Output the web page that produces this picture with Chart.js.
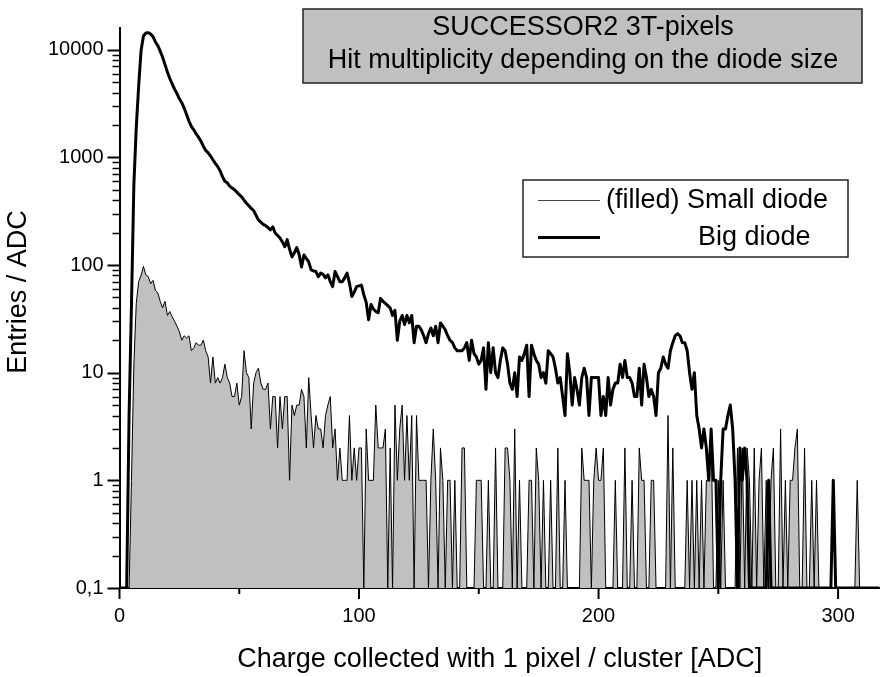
<!DOCTYPE html>
<html>
<head>
<meta charset="utf-8">
<title>SUCCESSOR2 3T-pixels</title>
<script src="https://cdn.jsdelivr.net/npm/chart.js@4.4.0/dist/chart.umd.min.js"></script>
<style>
  html, body { margin: 0; padding: 0; background: #fff; }
  #mycanvas { display: block; }
</style>
</head>
<body>
<canvas id="mycanvas" width="880" height="677"></canvas>
<script>
// one bin per ADC count, first bin is channel 0
var firstBin = 0;

// entries / ADC, small diode (filled)
var smallDiode = [
  0, 0, 0, 0, 0, 1, 12, 44, 70, 80,
  97, 81, 78, 67, 72, 58, 55, 46, 40, 46,
  34, 37, 33, 30, 27, 24, 20, 22, 21, 22,
  16, 17, 19, 18, 18, 20, 16, 14, 8, 14,
  8, 9, 8, 9, 12, 9, 8, 6, 6, 8,
  5, 6, 16, 10, 9, 3, 8, 10, 11, 8,
  7, 7, 8, 3, 6, 6, 2, 6, 3, 6,
  6, 1, 5, 4, 5, 5, 7, 6, 2, 9,
  4, 2, 4, 3, 3, 2, 4, 5, 6, 2,
  3, 1, 2, 1, 1, 1, 4, 1, 2, 1,
  2, 2, 0, 3, 1, 1, 1, 5, 2, 2,
  2, 3, 0, 2, 0, 5, 1, 3, 5, 1,
  4, 1, 4, 0, 4, 1, 1, 1, 1, 0,
  1, 3, 1, 0, 2, 1, 0, 1, 1, 0,
  1, 0, 0, 2, 2, 0, 0, 0, 0, 1,
  1, 1, 0, 0, 1, 0, 0, 2, 0, 0,
  0, 2, 2, 1, 0, 3, 0, 1, 0, 0,
  0, 1, 1, 0, 2, 1, 0, 1, 0, 0,
  1, 0, 0, 2, 0, 0, 1, 0, 0, 0,
  0, 0, 0, 2, 1, 1, 1, 0, 1, 2,
  1, 1, 2, 0, 0, 0, 0, 1, 0, 0,
  0, 2, 0, 0, 1, 0, 0, 2, 1, 1,
  0, 0, 1, 1, 0, 0, 0, 0, 0, 4,
  0, 2, 0, 0, 0, 0, 0, 1, 0, 1,
  0, 1, 0, 1, 0, 1, 1, 3, 0, 0,
  1, 0, 1, 0, 0, 0, 0, 0, 2, 0,
  2, 0, 2, 1, 0, 2, 0, 1, 2, 0,
  1, 0, 1, 2, 0, 0, 3, 0, 1, 0,
  1, 1, 2, 3, 0, 0, 2, 0, 0, 1,
  0, 1, 0, 0, 0, 0, 0, 0, 0, 0,
  0, 0, 0, 0, 0, 0, 0, 0, 1, 0,
  0, 0, 0, 0, 0, 0, 0, 0
];

// entries / ADC, big diode
var bigDiode = [
  0, 0, 0, 0, 4, 43, 560, 1900, 4600, 9800,
  13400, 14300, 14400, 14000, 13200, 11800, 10900, 9700, 8500, 7260,
  6200, 5400, 4800, 4300, 3900, 3500, 3220, 2870, 2500, 2170,
  1940, 1800, 1650, 1540, 1410, 1270, 1160, 1100, 1030, 950,
  880, 820, 750, 660, 600, 580, 540, 520, 500, 475,
  450, 430, 400, 375, 355, 335, 320, 290, 262, 250,
  238, 232, 222, 212, 226, 198, 188, 178, 164, 148,
  172, 140, 119, 130, 145, 125, 96, 124, 115, 107,
  90, 88, 87, 78, 84, 82, 76, 81, 70, 63,
  87, 78, 70, 70, 76, 84, 68, 51, 56, 63,
  64, 65, 53, 45, 31, 43, 39, 37, 36, 49,
  46, 44, 42, 40, 34, 38, 20, 30, 34, 28,
  34, 29, 34, 19, 27, 27, 25, 22, 19, 23,
  26, 22, 27, 19, 29, 27, 25, 22, 20, 19,
  17, 16, 16, 16, 17, 19, 13, 20, 15, 14,
  12, 13, 17, 7, 19, 10, 17, 10, 9, 13,
  17, 16, 12, 8, 7, 10, 6, 14, 13, 15,
  18, 6, 18, 15, 13, 12, 9, 10, 8, 16,
  15, 14, 11, 8, 9, 6, 4, 15, 10, 5,
  9, 7, 5, 9, 11, 9, 4, 9, 9, 9,
  9, 4, 6, 4, 9, 5, 7, 8, 8, 12,
  9, 13, 9, 9, 8, 6, 6, 11, 5, 12,
  9, 6, 7, 6, 4, 10, 11, 14, 12, 11,
  16, 19, 22, 23, 22, 19, 19, 16, 10, 7,
  10, 4, 3, 2, 3, 2, 1, 3, 1, 1,
  0, 1, 3, 3, 4, 5, 3, 1, 0, 2,
  1, 2, 1, 0, 0, 0, 0, 0, 0, 0,
  0, 1, 0, 0, 0, 0, 0, 0, 0, 0,
  0, 0, 0, 0, 0, 0, 0, 0, 0, 0,
  0, 0, 0, 0, 0, 0, 0, 0, 1, 0,
  0, 0, 0, 0, 0, 0, 0, 0, 0, 0,
  0, 0, 0, 0, 0, 0, 0, 0
];

var xTicks = [0, 100, 200, 300];
var xMinorTicks = [50, 150, 250];
var yTicks = [0.1, 1, 10, 100, 1000, 10000];
var yTickLabels = ['0,1', '1', '10', '100', '1000', '10000'];
var yMin = 0.1;
var titleLines = ['SUCCESSOR2 3T-pixels', 'Hit multiplicity depending on the diode size'];
var legendLabels = ['(filled) Small diode', 'Big diode'];
var xTitle = 'Charge collected with 1 pixel / cluster [ADC]';
var yTitle = 'Entries / ADC';

var FONT = "'Liberation Sans', Arial, Helvetica, sans-serif";

// empty bins sit on the bottom of the log axis, like in the original plot
function toPoints(arr) {
  var pts = [];
  for (var i = 0; i < arr.length; i++) {
    pts.push({ x: firstBin + i, y: arr[i] > 0 ? arr[i] : yMin });
  }
  return pts;
}

// ticks (major + minor), y title, title box and legend
var decorations = {
  id: 'decorations',
  afterDraw: function(chart) {
    var ctx = chart.ctx;
    var xs = chart.scales.x, ys = chart.scales.y;
    var area = chart.chartArea;
    ctx.save();
    ctx.strokeStyle = '#000';
    ctx.lineCap = 'butt';

    // y ticks
    var d, k, v, p;
    for (d = -1; d <= 4; d++) {
      for (k = 1; k <= 9; k++) {
        v = k * Math.pow(10, d);
        if (v > ys.max) break;
        p = Math.round(ys.getPixelForValue(v)) + 0.5;
        ctx.beginPath();
        ctx.lineWidth = k === 1 ? 2 : 1.5;
        ctx.moveTo(area.left - (k === 1 ? 12 : 7), p);
        ctx.lineTo(area.left, p);
        ctx.stroke();
      }
    }
    // x ticks
    xTicks.forEach(function(t) {
      p = xs.getPixelForValue(t);
      ctx.beginPath();
      ctx.lineWidth = 2;
      ctx.moveTo(p, area.bottom);
      ctx.lineTo(p, area.bottom + 11);
      ctx.stroke();
    });
    xMinorTicks.forEach(function(t) {
      p = xs.getPixelForValue(t);
      ctx.beginPath();
      ctx.lineWidth = 2;
      ctx.moveTo(p, area.bottom);
      ctx.lineTo(p, area.bottom + 6);
      ctx.stroke();
    });

    // y axis title
    ctx.save();
    ctx.translate(19, 292);
    ctx.rotate(-Math.PI / 2);
    ctx.fillStyle = '#000';
    ctx.font = '27px ' + FONT;
    ctx.textAlign = 'center';
    ctx.textBaseline = 'middle';
    ctx.fillText(yTitle, 0, 0);
    ctx.restore();

    // title box
    ctx.fillStyle = '#c0c0c0';
    ctx.fillRect(303, 9, 559, 74);
    ctx.lineWidth = 1.5;
    ctx.strokeStyle = '#222';
    ctx.strokeRect(303, 9, 559, 74);
    ctx.fillStyle = '#000';
    ctx.font = '27px ' + FONT;
    ctx.textAlign = 'center';
    ctx.textBaseline = 'middle';
    ctx.fillText(titleLines[0], 583, 28);
    ctx.fillText(titleLines[1], 583, 61);

    // legend
    ctx.fillStyle = '#fff';
    ctx.fillRect(523, 180, 325, 77);
    ctx.strokeRect(523, 180, 325, 77);
    ctx.beginPath();
    ctx.lineWidth = 1;
    ctx.strokeStyle = '#444';
    ctx.moveTo(538, 200.5);
    ctx.lineTo(600, 200.5);
    ctx.stroke();
    ctx.beginPath();
    ctx.lineWidth = 3;
    ctx.strokeStyle = '#000';
    ctx.moveTo(538, 237.5);
    ctx.lineTo(600, 237.5);
    ctx.stroke();
    ctx.fillStyle = '#000';
    ctx.textAlign = 'left';
    ctx.fillText(legendLabels[0], 606, 201);
    ctx.fillText(legendLabels[1], 698, 238);
    ctx.restore();
  }
};

var ctx = document.getElementById('mycanvas');

var chart = new Chart(ctx, {
  type: 'line',
  data: {
    datasets: [
      {
        label: legendLabels[0],
        data: toPoints(smallDiode),
        borderColor: '#000',
        borderWidth: 1,
        backgroundColor: '#c0c0c0',
        fill: 'start',
        pointRadius: 0,
        tension: 0,
        order: 2
      },
      {
        label: legendLabels[1],
        data: toPoints(bigDiode),
        borderColor: '#000',
        borderWidth: 3,
        borderJoinStyle: 'round',
        fill: false,
        pointRadius: 0,
        tension: 0,
        order: 1
      }
    ]
  },
  options: {
    responsive: false,
    animation: false,
    devicePixelRatio: 1,
    layout: { padding: { left: 0, right: 0, top: 28, bottom: 0 } },
    plugins: {
      legend: { display: false },
      tooltip: { enabled: false },
      title: { display: false }
    },
    scales: {
      x: {
        type: 'linear',
        min: 0,
        max: 317.5,
        grid: { display: false, drawTicks: false },
        border: { display: true, color: '#000', width: 2 },
        afterBuildTicks: function(scale) {
          scale.ticks = xTicks.map(function(v) { return { value: v }; });
        },
        afterFit: function(scale) { scale.height = 89; },
        ticks: {
          color: '#000',
          padding: 16,
          maxRotation: 0,
          autoSkip: false,
          font: { family: FONT, size: 20 },
          callback: function(value) { return String(value); }
        },
        title: {
          display: true,
          text: xTitle,
          color: '#000',
          font: { family: FONT, size: 27 },
          padding: { top: 0, bottom: 1 }
        }
      },
      y: {
        type: 'logarithmic',
        min: yMin,
        max: 15900,
        grid: { display: false, drawTicks: false },
        border: { display: true, color: '#000', width: 2 },
        afterBuildTicks: function(scale) {
          scale.ticks = yTicks.map(function(v) { return { value: v }; });
        },
        afterFit: function(scale) { scale.width = 119.5; },
        ticks: {
          color: '#000',
          padding: 16,
          autoSkip: false,
          font: { family: FONT, size: 20 },
          callback: function(value, index) { return yTickLabels[index]; }
        },
        title: { display: false }
      }
    }
  },
  plugins: [decorations]
});
</script>
</body>
</html>
